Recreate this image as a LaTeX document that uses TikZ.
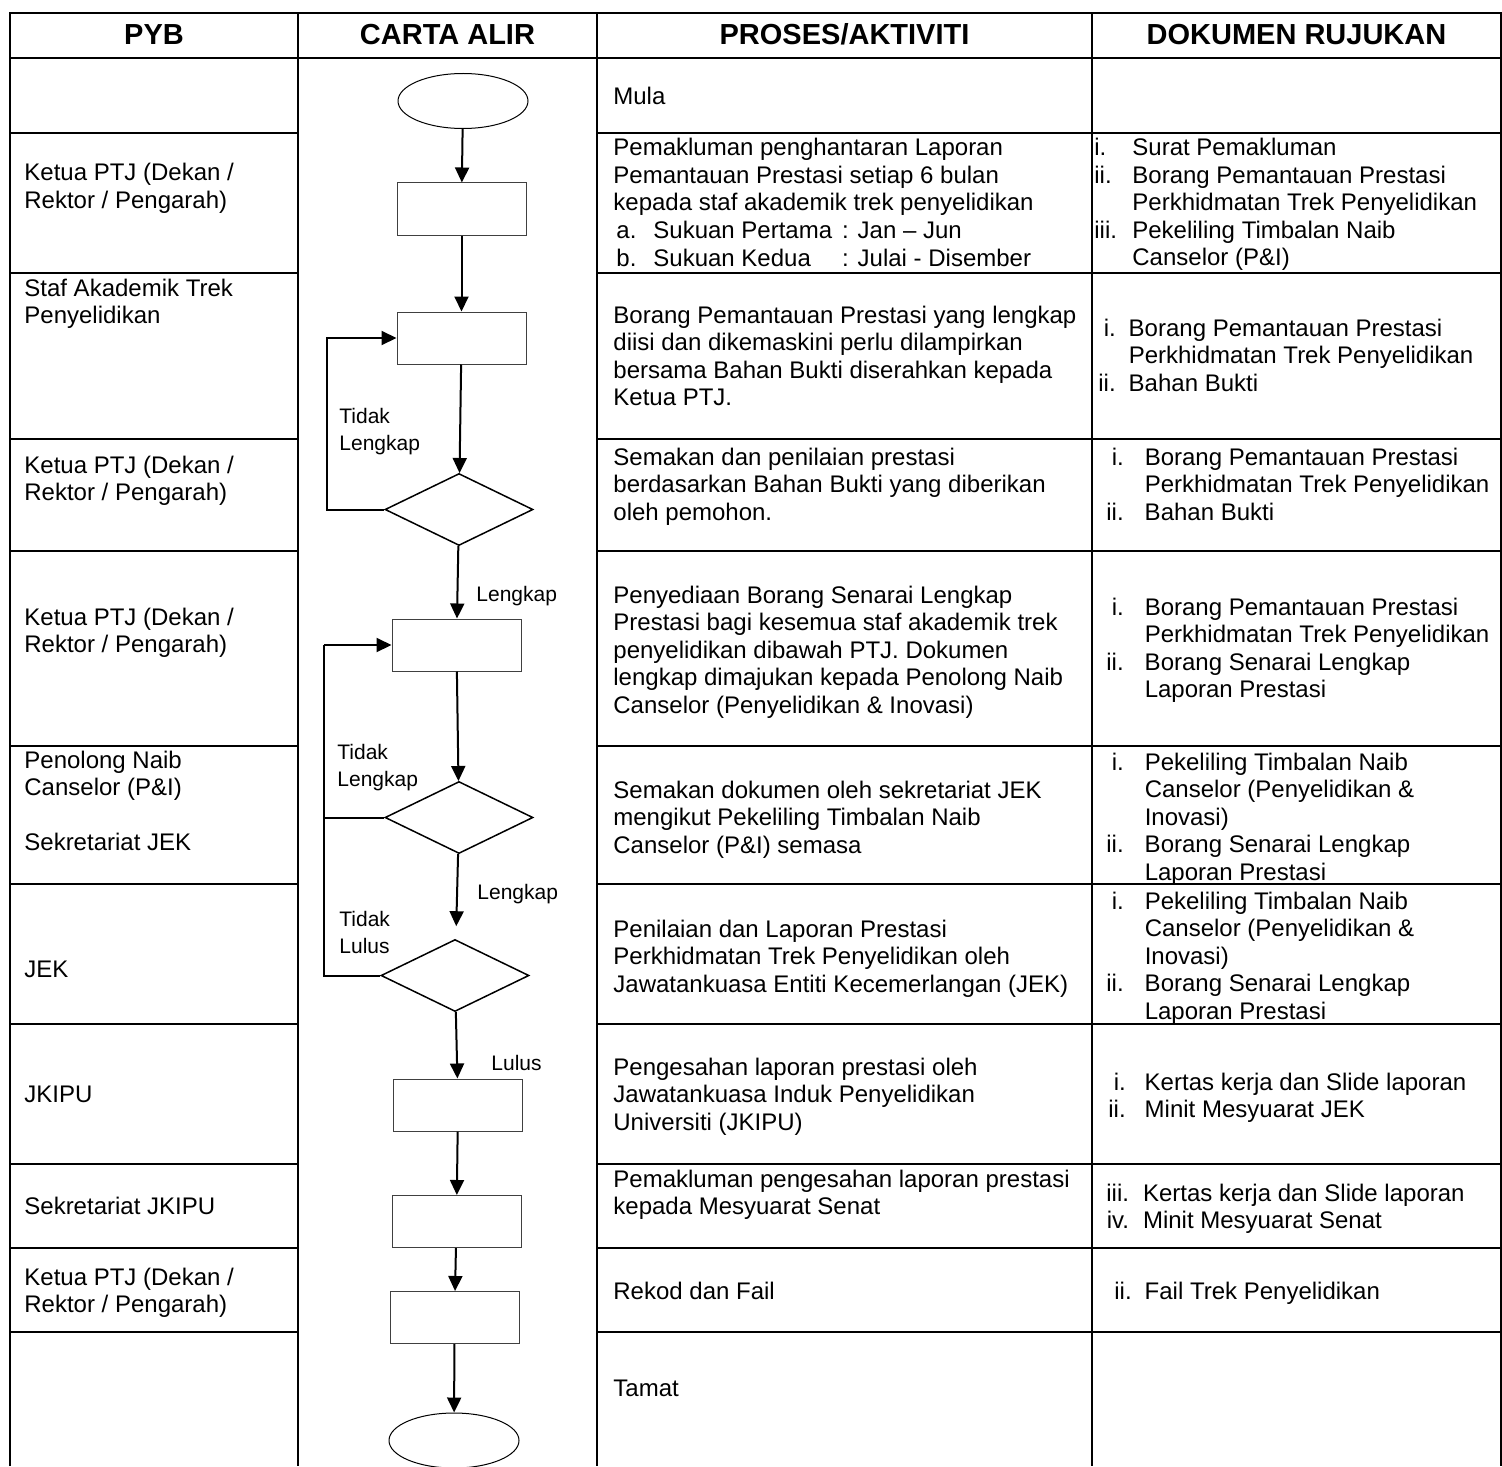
\documentclass[tikz,border=0pt]{standalone}
\usepackage{fontspec}
\setmainfont{Liberation Sans}
\usetikzlibrary{arrows.meta,shapes.geometric}

\newcommand{\CellTxt}[1]{\begin{tabular}[t]{@{}l@{}}#1\end{tabular}}
\newcommand{\RefList}[2]{\begin{tabular}[t]{@{}r@{\hspace{#1}}l@{}}#2\end{tabular}}

\begin{document}
\begin{tikzpicture}[
	x=0.5pt, y=-0.5pt,
	TableLine/.style={line width=1.1pt},
	FlowLine/.style={line width=1pt},
	FlowArrow/.style={line width=1pt, -{Triangle[length = 7.5pt, width = 7pt]}},
	BoxStyle/.style={draw=black!75, line width=0.5pt, minimum width=64.5pt,
		minimum height=26pt, inner sep=0pt},
	DecStyle/.style={diamond, draw, line width=0.75pt, minimum width=74pt,
		minimum height=36pt, inner sep=0pt},
	OvalStyle/.style={ellipse, draw, line width=0.5pt, minimum width=65pt,
		minimum height=27.5pt, inner sep=0pt},
	HeadStyle/.style={anchor=base, inner sep=0pt,
		font=\fontsize{14.5}{17}\selectfont\bfseries},
	TxtStyle/.style={anchor=base west, inner sep=0pt,
		font=\fontsize{12}{13.75}\selectfont},
	LblStyle/.style={anchor=base west, inner sep=0pt,
		font=\fontsize{10.5}{13.5}\selectfont},
	]
	\useasboundingbox (0,0) rectangle (1502,1466);

	% table frame
	\draw[TableLine] (10,1466) -- (10,13) -- (1501,13) -- (1501,1466);
	\draw[TableLine] (10,58) -- (1501,58);
	\draw[TableLine] (298,13) -- (298,1466);
	\draw[TableLine] (597,13) -- (597,1466);
	\draw[TableLine] (1092,13) -- (1092,1466);
	\draw[TableLine] (10,133) -- (298,133) (597,133) -- (1501,133);
	\draw[TableLine] (10,273) -- (298,273) (597,273) -- (1501,273);
	\draw[TableLine] (10,439) -- (298,439) (597,439) -- (1501,439);
	\draw[TableLine] (10,551) -- (298,551) (597,551) -- (1501,551);
	\draw[TableLine] (10,746) -- (298,746) (597,746) -- (1501,746);
	\draw[TableLine] (10,884) -- (298,884) (597,884) -- (1501,884);
	\draw[TableLine] (10,1024) -- (298,1024) (597,1024) -- (1501,1024);
	\draw[TableLine] (10,1164) -- (298,1164) (597,1164) -- (1501,1164);
	\draw[TableLine] (10,1248) -- (298,1248) (597,1248) -- (1501,1248);
	\draw[TableLine] (10,1332) -- (298,1332) (597,1332) -- (1501,1332);

	\node[HeadStyle] (h1) at (154,45) {PYB};
	\node[HeadStyle] (h2) at (447.5,45) {CARTA ALIR};
	\node[HeadStyle] (h3) at (844.5,45) {PROSES/AKTIVITI};
	\node[HeadStyle] (h4) at (1296.5,45) {DOKUMEN RUJUKAN};

	% PYB
	\node[TxtStyle] (pyb1) at (24,181) {\CellTxt{Ketua PTJ (Dekan /\\Rektor / Pengarah)}};
	\node[TxtStyle] (pyb2) at (24,296) {\CellTxt{Staf Akademik Trek\\Penyelidikan}};
	\node[TxtStyle] (pyb3) at (24,473) {\CellTxt{Ketua PTJ (Dekan /\\Rektor / Pengarah)}};
	\node[TxtStyle] (pyb4) at (24,625) {\CellTxt{Ketua PTJ (Dekan /\\Rektor / Pengarah)}};
	\node[TxtStyle] (pyb5) at (24,768) {\CellTxt{Penolong Naib\\Canselor (P\&I)\\ \\Sekretariat JEK}};
	\node[TxtStyle] (pyb6) at (24,977) {JEK};
	\node[TxtStyle] (pyb7) at (24,1102) {JKIPU};
	\node[TxtStyle] (pyb8) at (24,1214) {Sekretariat JKIPU};
	\node[TxtStyle] (pyb9) at (24,1285) {\CellTxt{Ketua PTJ (Dekan /\\Rektor / Pengarah)}};

	% CARTA ALIR
	\node[OvalStyle] (start) at (463,101) {};
	\node[BoxStyle] (b1) at (461.5,209) {};
	\node[BoxStyle] (b2) at (461.5,338) {};
	\node[DecStyle] (d1) at (459,509.5) {};
	\node[BoxStyle] (b3) at (456.5,645) {};
	\node[DecStyle] (d2) at (459,817.5) {};
	\node[DecStyle] (d3) at (455,975.5) {};
	\node[BoxStyle] (b4) at (458,1105) {};
	\node[BoxStyle] (b5) at (456.5,1221.5) {};
	\node[BoxStyle] (b6) at (454.5,1317.5) {};
	\node[OvalStyle] (stop) at (454,1440.5) {};

	\draw[FlowArrow] (start) -- (b1);
	\draw[FlowArrow] (b1) -- (b2);
	\draw[FlowArrow] (b2) -- (d1);
	\draw[FlowArrow] (d1) -- (b3);
	\draw[FlowArrow] (b3) -- (d2);
	\draw[FlowArrow, shorten >=6.5pt] (d2) -- (d3);
	\draw[FlowArrow] (d3) -- (b4);
	\draw[FlowArrow] (b4) -- (b5);
	\draw[FlowArrow] (b5) -- (b6);
	\draw[FlowArrow] (b6) -- (stop);

	\draw[FlowArrow] (d1.west) -- ++(-57,0) |- (b2.west);
	\coordinate (lp) at (324,645);
	\draw[FlowLine] (d3.west) -| (lp);
	\draw[FlowArrow] (lp) -- (b3.west);
	\draw[FlowLine] (d2.west) -- (d2.west -| lp);

	\node[LblStyle] (t1) at (339,423) {\CellTxt{Tidak\\Lengkap}};
	\node[LblStyle] (l1) at (476,601) {Lengkap};
	\node[LblStyle] (t2) at (337,759) {\CellTxt{Tidak\\Lengkap}};
	\node[LblStyle] (l2) at (477,899) {Lengkap};
	\node[LblStyle] (t3) at (339,926) {\CellTxt{Tidak\\Lulus}};
	\node[LblStyle] (l3) at (491,1070) {Lulus};

	% PROSES/AKTIVITI
	\node[TxtStyle] (act0) at (613,105) {Mula};
	\node[TxtStyle] (act1) at (613,156) {\CellTxt{Pemakluman penghantaran Laporan\\
		Pemantauan Prestasi setiap 6 bulan\\kepada staf akademik trek penyelidikan}};
	\node[TxtStyle] (act1b) at (616,238.5) {\begin{tabular}[t]{@{}l@{\hspace{8.5pt}}l@{\hspace{5pt}}l@{}}
		a. & Sukuan Pertama & : Jan – Jun\\ b. & Sukuan Kedua & : Julai - Disember\end{tabular}};
	\node[TxtStyle] (act2) at (613,323) {\CellTxt{Borang Pemantauan Prestasi yang lengkap\\
		diisi dan dikemaskini perlu dilampirkan\\bersama Bahan Bukti diserahkan kepada\\Ketua PTJ.}};
	\node[TxtStyle] (act3) at (613,465) {\CellTxt{Semakan dan penilaian prestasi\\
		berdasarkan Bahan Bukti yang diberikan\\oleh pemohon.}};
	\node[TxtStyle] (act4) at (613,603) {\CellTxt{Penyediaan Borang Senarai Lengkap\\
		Prestasi bagi kesemua staf akademik trek\\penyelidikan dibawah PTJ. Dokumen\\
		lengkap dimajukan kepada Penolong Naib\\Canselor (Penyelidikan \& Inovasi)}};
	\node[TxtStyle] (act5) at (613,798) {\CellTxt{Semakan dokumen oleh sekretariat JEK\\
		mengikut Pekeliling Timbalan Naib\\Canselor (P\&I) semasa}};
	\node[TxtStyle] (act6) at (613,937) {\CellTxt{Penilaian dan Laporan Prestasi\\
		Perkhidmatan Trek Penyelidikan oleh\\Jawatankuasa Entiti Kecemerlangan (JEK)}};
	\node[TxtStyle] (act7) at (613,1075) {\CellTxt{Pengesahan laporan prestasi oleh\\
		Jawatankuasa Induk Penyelidikan\\Universiti (JKIPU)}};
	\node[TxtStyle] (act8) at (613,1187) {\CellTxt{Pemakluman pengesahan laporan prestasi\\
		kepada Mesyuarat Senat}};
	\node[TxtStyle] (act9) at (613,1299) {Rekod dan Fail};
	\node[TxtStyle] (act10) at (613,1396) {Tamat};

	% DOKUMEN RUJUKAN
	\node[TxtStyle] (doc1) at (1094,156) {\begin{tabular}[t]{@{}p{19pt}@{}l@{}}
		i. & Surat Pemakluman\\ ii. & Borang Pemantauan Prestasi\\
		& Perkhidmatan Trek Penyelidikan\\ iii. & Pekeliling Timbalan Naib\\
		& Canselor (P\&I)\end{tabular}};
	\node[TxtStyle] (doc2) at (1098,336) {\RefList{6.5pt}{i. & Borang Pemantauan Prestasi\\
		& Perkhidmatan Trek Penyelidikan\\ ii. & Bahan Bukti}};
	\node[TxtStyle] (doc3) at (1106,465) {\RefList{10.5pt}{i. & Borang Pemantauan Prestasi\\
		& Perkhidmatan Trek Penyelidikan\\ ii. & Bahan Bukti}};
	\node[TxtStyle] (doc4) at (1106,615) {\RefList{10.5pt}{i. & Borang Pemantauan Prestasi\\
		& Perkhidmatan Trek Penyelidikan\\ ii. & Borang Senarai Lengkap\\
		& Laporan Prestasi}};
	\node[TxtStyle] (doc5) at (1106,770) {\RefList{10.5pt}{i. & Pekeliling Timbalan Naib\\
		& Canselor (Penyelidikan \&\\ & Inovasi)\\ ii. & Borang Senarai Lengkap\\
		& Laporan Prestasi}};
	\node[TxtStyle] (doc6) at (1106,909) {\RefList{10.5pt}{i. & Pekeliling Timbalan Naib\\
		& Canselor (Penyelidikan \&\\ & Inovasi)\\ ii. & Borang Senarai Lengkap\\
		& Laporan Prestasi}};
	\node[TxtStyle] (doc7) at (1108,1090) {\RefList{9.5pt}{i. & Kertas kerja dan Slide laporan\\
		ii. & Minit Mesyuarat JEK}};
	\node[TxtStyle] (doc8) at (1106,1201) {\RefList{7pt}{iii. & Kertas kerja dan Slide laporan\\
		iv. & Minit Mesyuarat Senat}};
	\node[TxtStyle] (doc9) at (1114,1299) {\RefList{6.5pt}{ii. & Fail Trek Penyelidikan}};
\end{tikzpicture}
\end{document}
